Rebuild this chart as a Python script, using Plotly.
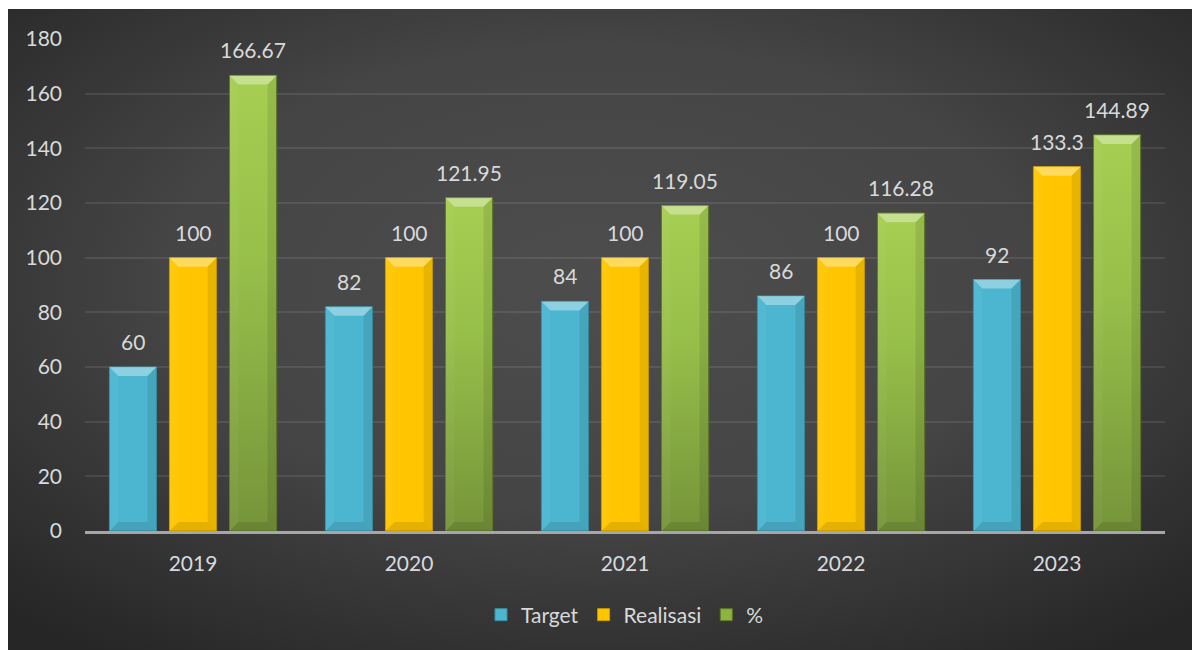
import base64
import plotly.graph_objects as go

# ---- data ----
years = ["2019", "2020", "2021", "2022", "2023"]
target = [60, 82, 84, 86, 92]
realisasi = [100, 100, 100, 100, 133.3]
persen = [166.67, 121.95, 119.05, 116.28, 144.89]
series_names = ["Target", "Realisasi", "%"]

# ---- styling ----
W, H = 1192, 650
ML, MR, MT, MB = 85, 27, 39, 119
PLOT_W = W - ML - MR
PLOT_H = H - MT - MB
Y_MAX = 180
TEXT = "#d9d9d9"
FONT = "Lato, 'Open Sans', sans-serif"
FS = 21

colors = ["#4cb6d0", "#ffc600", "#8db43e"]
edges = ["#3a8ea3", "#c99a00", "#5f7a2a"]
bar_w = 0.218                 # bar width in category units
slot = 0.278                  # centre-to-centre spacing inside a group
centres = [(k - 1) * slot for k in range(3)]

xs = list(range(len(years)))
values = [target, realisasi, persen]

fig = go.Figure()

for k, (name, vals) in enumerate(zip(series_names, values)):
    fig.add_trace(go.Bar(
        x=xs, y=vals, name=name,
        width=bar_w, offset=centres[k] - bar_w / 2,
        marker=dict(color=colors[k], line=dict(color=edges[k], width=1)),
        hoverinfo="skip",
    ))

# vertical light-to-dark shading on the green bars
for i, v in zip(xs, persen):
    x0 = i + centres[2] - bar_w / 2
    x1 = x0 + bar_w
    fig.add_trace(go.Scatter(
        x=[x0, x1, x1, x0, x0], y=[0, 0, v, v, 0],
        mode="lines", fill="toself",
        line=dict(width=1, color=edges[2]),
        fillgradient=dict(type="vertical",
                          colorscale=[[0, "#76943a"], [0.6, "#97c04a"], [1, "#a6ce52"]]),
        showlegend=False, hoverinfo="skip",
    ))

# bevel facets on every bar
dx = 9 / (PLOT_W / len(years))
dy = 9 * Y_MAX / PLOT_H
shapes = []
for k, vals in enumerate(values):
    for i, v in zip(xs, vals):
        x0 = i + centres[k] - bar_w / 2
        x1 = x0 + bar_w
        facets = [
            (f"M{x0},{v} L{x1},{v} L{x1-dx},{v-dy} L{x0+dx},{v-dy} Z", "rgba(255,255,255,0.36)"),
            (f"M{x0},0 L{x1},0 L{x1-dx},{dy} L{x0+dx},{dy} Z", "rgba(0,0,0,0.10)"),
            (f"M{x1},0 L{x1},{v} L{x1-dx},{v-dy} L{x1-dx},{dy} Z", "rgba(0,0,0,0.09)"),
            (f"M{x0},0 L{x0},{v} L{x0+dx},{v-dy} L{x0+dx},{dy} Z", "rgba(255,255,255,0.04)"),
        ]
        for path, fill in facets:
            shapes.append(dict(type="path", path=path, xref="x", yref="y",
                               fillcolor=fill, line=dict(width=0), layer="above"))

# value labels above the bars
annotations = []
for k, vals in enumerate(values):
    for i, v in zip(xs, vals):
        annotations.append(dict(
            x=i + centres[k], y=v, xref="x", yref="y",
            text=f"{v:g}", showarrow=False, yanchor="bottom", yshift=11,
            font=dict(family=FONT, size=FS, color=TEXT),
        ))

# dark radial backdrop of the chart area
bg_w, bg_h = W - 8, H - 9
svg = (
    f"<svg xmlns='http://www.w3.org/2000/svg' width='{bg_w}' height='{bg_h}' "
    f"viewBox='0 0 {bg_w} {bg_h}' preserveAspectRatio='none'>"
    "<defs><radialGradient id='g' cx='0.5' cy='0.42' r='0.72'>"
    "<stop offset='0' stop-color='#4d4d4d'/>"
    "<stop offset='0.5' stop-color='#454545'/>"
    "<stop offset='1' stop-color='#262626'/>"
    "</radialGradient></defs>"
    "<rect width='100%' height='100%' fill='url(#g)'/></svg>"
)
svg_uri = "data:image/svg+xml;base64," + base64.b64encode(svg.encode()).decode()

fig.update_layout(
    width=W, height=H,
    margin=dict(l=ML, r=MR, t=MT, b=MB),
    paper_bgcolor="white",
    plot_bgcolor="rgba(0,0,0,0)",
    barmode="overlay",
    font=dict(family=FONT, size=FS, color=TEXT),
    images=[dict(
        source=svg_uri, xref="paper", yref="paper",
        x=(8 - ML) / PLOT_W, y=1 + (MT - 9) / PLOT_H,
        sizex=bg_w / PLOT_W, sizey=bg_h / PLOT_H,
        xanchor="left", yanchor="top", sizing="stretch", layer="below",
    )],
    shapes=shapes,
    annotations=annotations,
    showlegend=True,
    legend=dict(
        orientation="h", x=0.5, xanchor="center",
        y=-(615 - (MT + PLOT_H)) / PLOT_H, yanchor="middle",
        font=dict(family=FONT, size=FS, color=TEXT),
        bgcolor="rgba(0,0,0,0)", itemwidth=30, tracegroupgap=0,
    ),
    xaxis=dict(
        range=[-0.5, len(years) - 0.5],
        tickmode="array", tickvals=xs, ticktext=years,
        showgrid=False, zeroline=False,
        showline=True, linecolor="#a6a6a6", linewidth=2.5,
        ticks="", ticklabelstandoff=12,
        tickfont=dict(family=FONT, size=FS, color=TEXT),
    ),
    yaxis=dict(
        range=[0, Y_MAX], dtick=20, tick0=0,
        showgrid=True, gridcolor="rgba(255,255,255,0.09)", gridwidth=2,
        zeroline=False, showline=False,
        ticks="", ticklabelstandoff=22,
        tickfont=dict(family=FONT, size=FS, color=TEXT),
    ),
)

fig.write_html("out.html")
